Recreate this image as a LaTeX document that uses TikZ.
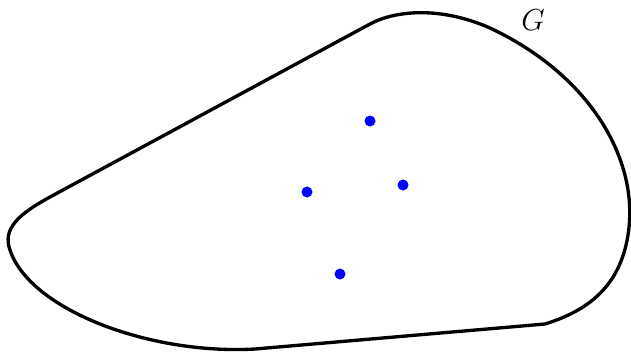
\documentclass[tikz,border=0pt]{standalone}
\begin{document}
\begin{tikzpicture}[x=0.02cm,y=-0.02cm,
  region/.style={line width=1.9pt,line join=round},
  vertex/.style={circle,fill=blue,inner sep=0pt,minimum size=0.22cm}]
\useasboundingbox (0,0) rectangle (631,352);
\draw[region] (50,197) -- (370,24)
  .. controls (395,10.5) and (440,6) .. (490,28)
  .. controls (590,75) and (640,160) .. (628,235)
  .. controls (620,285) and (590,310) .. (545,324)
  -- (255,349)
  .. controls (150,355) and (30,310) .. (10,250)
  .. controls (2,228) and (20,213.5) .. (50,197) -- cycle;
\node (G) at (533,20) {\LARGE $G$};
\node[vertex] (v1) at (370,121) {};
\node[vertex] (v2) at (307,192) {};
\node[vertex] (v3) at (403,185) {};
\node[vertex] (v4) at (340,274) {};
\end{tikzpicture}
\end{document}
